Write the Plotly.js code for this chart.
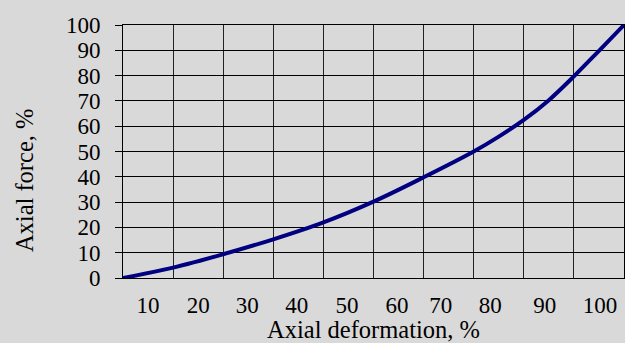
<!DOCTYPE html>
<html>
<head>
<meta charset="utf-8">
<script src="https://cdn.plot.ly/plotly-3.0.1.min.js"></script>
<style>html,body{margin:0;padding:0;background:#d9d9d9;}#chart{width:625px;height:343px;}</style>
</head>
<body>
<div id="chart"></div>
<script>
// Axial deformation (axis units) and axial force, %
const deformation = [5, 15, 25, 35, 45, 55, 65, 75, 80, 85, 90, 95, 100, 105];
const force       = [0, 4.1, 9.4, 15.3, 22.0, 30.2, 39.8, 50.0, 55.9, 62.5, 70.3, 79.7, 89.8, 100];

// tick labels on the x axis and where they sit
const xTickPositions = [10, 20, 29.8, 39.7, 49.7, 59.7, 68.4, 78.3, 89.2, 100.2];
const xTickLabels = ["10", "20", "30", "40", "50", "60", "70", "80", "90", "100"];
const yTickValues = [0, 10, 20, 30, 40, 50, 60, 70, 80, 90, 100];

const xTitle = "Axial deformation, %";
const yTitle = "Axial force, %";

function mkFont(size) { return {family: "Times New Roman", size: size, color: "black"}; }

const trace = {
  x: deformation,
  y: force,
  type: "scatter",
  mode: "lines",
  line: {color: "#000080", width: 4, shape: "spline", smoothing: 1},
  hoverinfo: "none"
};

const layout = {
  width: 625,
  height: 343,
  paper_bgcolor: "#d9d9d9",
  plot_bgcolor: "#d9d9d9",
  margin: {l: 123, r: 1, t: 25, b: 65},
  showlegend: false,
  font: mkFont(23),
  xaxis: {
    range: [5, 105],
    tickmode: "array",
    tickvals: xTickPositions,
    ticktext: xTickLabels,
    ticks: "",
    showgrid: false,
    zeroline: false,
    showline: true,
    mirror: true,
    linecolor: "#000",
    linewidth: 1,
    tickfont: mkFont(23),
    ticklabelstandoff: 6,
    minor: {tickmode: "linear", tick0: 5, dtick: 10, showgrid: true, gridcolor: "#222", gridwidth: 1, ticks: ""},
    title: {text: xTitle, font: mkFont(24.5), standoff: 9},
    automargin: false
  },
  yaxis: {
    range: [0, 100],
    tickmode: "array",
    tickvals: yTickValues,
    ticks: "outside",
    ticklen: 7,
    tickcolor: "#000",
    tickwidth: 1,
    showgrid: true,
    gridcolor: "#000",
    gridwidth: 1,
    zeroline: false,
    showline: true,
    mirror: true,
    linecolor: "#000",
    linewidth: 1,
    tickfont: mkFont(23),
    ticklabelstandoff: 10,
    automargin: false
  },
  annotations: [{
    text: yTitle,
    xref: "paper", yref: "paper",
    x: -0.1976, y: 0.387,
    xanchor: "center", yanchor: "middle",
    textangle: -90,
    showarrow: false,
    font: mkFont(24.5)
  }]
};

Plotly.newPlot("chart", [trace], layout, {staticPlot: true, displayModeBar: false});
</script>
</body>
</html>
